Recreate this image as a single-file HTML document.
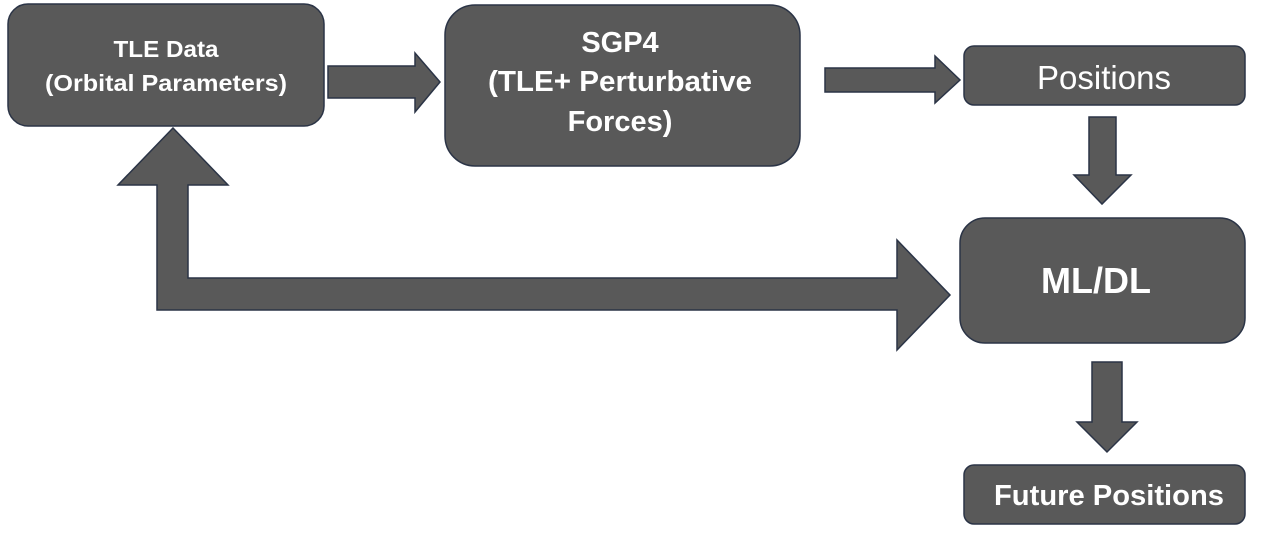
<!DOCTYPE html>
<html><head><meta charset="utf-8"><style>
html,body{margin:0;padding:0;background:#fff;}
svg{display:block}
text{font-family:"Liberation Sans",sans-serif;fill:#fff;text-anchor:middle;}
</style></head><body>
<svg width="1280" height="542" viewBox="0 0 1280 542">
<g fill="#595959" stroke="#2b3446" stroke-width="1.5">
<rect x="8" y="4" width="316" height="122" rx="20"/>
<rect x="445" y="5" width="355" height="161" rx="30"/>
<rect x="964" y="46" width="281" height="59" rx="10"/>
<rect x="960" y="218" width="285" height="125" rx="25"/>
<rect x="964" y="465" width="281" height="59" rx="10"/>
<polygon points="328,66 415,66 415,53 440,82 415,112 415,98 328,98"/>
<polygon points="825,68 935,68 935,56 960,80 935,103 935,92 825,92"/>
<polygon points="1089,117 1116,117 1116,175 1131,175 1102,204 1074,175 1089,175"/>
<polygon points="1092,362 1122,362 1122,422 1137,422 1107,452 1077,422 1092,422"/>
<polygon points="173,128 228,185 188,185 188,278 897,278 897,240 950,295 897,350 897,310 157,310 157,185 118,185"/>
</g>
<text x="166" y="57" font-size="23" font-weight="bold" textLength="105" lengthAdjust="spacingAndGlyphs">TLE Data</text>
<text x="166" y="91" font-size="23" font-weight="bold" textLength="242" lengthAdjust="spacingAndGlyphs">(Orbital Parameters)</text>
<text x="620" y="52" font-size="29" font-weight="bold">SGP4</text>
<text x="620" y="91" font-size="29" font-weight="bold" textLength="264" lengthAdjust="spacingAndGlyphs">(TLE+ Perturbative</text>
<text x="620" y="131" font-size="29" font-weight="bold">Forces)</text>
<text x="1104" y="89" font-size="33">Positions</text>
<text x="1096" y="293" font-size="36" font-weight="bold">ML/DL</text>
<text x="1109" y="505" font-size="29" font-weight="bold" textLength="230" lengthAdjust="spacingAndGlyphs">Future Positions</text>
</svg>
</body></html>
